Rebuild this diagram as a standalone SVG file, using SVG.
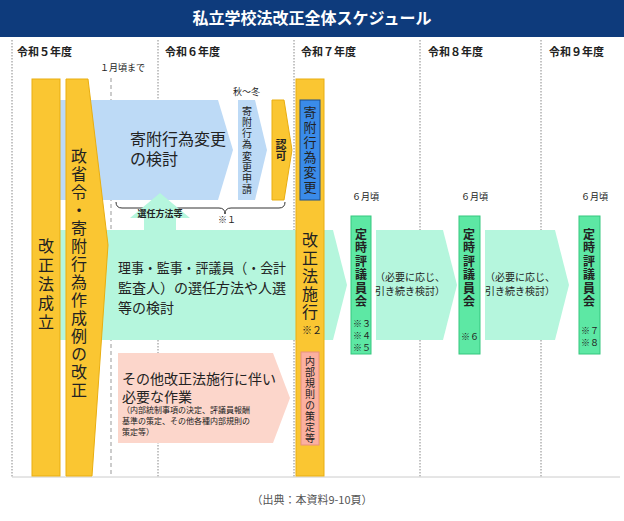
<svg xmlns="http://www.w3.org/2000/svg" width="624" height="521" viewBox="0 0 624 521">
<style>
text{font-family:"Noto Sans CJK JP","Noto Sans CJK SC",sans-serif;fill:#222}
.yr{font-size:11px;font-weight:bold}
.sm{font-size:9px}
.yel{fill:#fac632;stroke:#e9ae10;stroke-width:1}
.blu{fill:#bddaf6}
.grn{fill:#b5f6dd}
.pnk{fill:#fcd6cb}
.dot{stroke:#888;stroke-width:1;stroke-dasharray:1.5,1.5;fill:none}
.big{font-size:16px}
.ver{writing-mode:vertical-rl;text-orientation:upright}
.tei{fill:#5de8a4;stroke:#34c77f}
.kome{font-size:9px}
</style>
<rect width="624" height="521" fill="#fff"/>
<rect x="0" y="0" width="624" height="37" fill="#0e3b7c"/>
<text x="312" y="24" text-anchor="middle" style="fill:#fff;font-size:16px;font-weight:bold">私立学校法改正全体スケジュール</text>
<g id="grid">
<line class="dot" x1="12" y1="40" x2="12" y2="477"/>
<line class="dot" x1="158" y1="40" x2="158" y2="477"/>
<line class="dot" x1="294" y1="40" x2="294" y2="477"/>
<line class="dot" x1="420" y1="40" x2="420" y2="477"/>
<line class="dot" x1="541" y1="40" x2="541" y2="477"/>
<line x1="111" y1="78" x2="111" y2="477" stroke="#999" stroke-dasharray="4,3"/>
<line x1="12" y1="477" x2="620" y2="477" stroke="#ccc"/>
<text class="yr" x="17" y="56">令和５年度</text>
<text class="yr" x="165" y="56">令和６年度</text>
<text class="yr" x="301" y="56">令和７年度</text>
<text class="yr" x="428" y="56">令和８年度</text>
<text class="yr" x="549" y="56">令和９年度</text>
<text class="sm" x="100" y="71">１月頃まで</text>
<text class="sm" x="233" y="95">秋～冬</text>
<text class="sm" x="352" y="200">６月頃</text>
<text class="sm" x="461" y="200">６月頃</text>
<text class="sm" x="581" y="200">６月頃</text>
</g>
<g id="blue-study">
<polygon class="blu" points="60,100 218,100 233,150 218,200 60,200"/>
<text class="big" x="130" y="145">寄附行為変更</text>
<text class="big" x="130" y="165">の検討</text>
</g>
<g id="blue-apply">
<polygon class="blu" points="238,100 255,100 267,150 255,200 238,200"/>
<text class="ver" x="247" y="106" style="font-size:10px;letter-spacing:1.2px">寄附行為変更申請</text>
</g>
<g id="approval">
<polygon class="yel" points="272,100 284,100 292,150 284,200 272,200"/>
<text class="ver" x="281" y="139" style="font-size:11px;font-weight:bold">認可</text>
</g>
<g id="connectors">
<path d="M116,202 q0,6 6,6 h97 q6,0 6,6 q0,-6 6,-6 h48 q6,0 6,-6" fill="none" stroke="#333" stroke-width="1"/>
<text class="sm" x="218" y="223">※１</text>
<polygon class="grn" points="130,218 160,193 190,218 176,218 176,232 144,232 144,218"/>
<text x="160" y="217" text-anchor="middle" style="font-size:9px;font-weight:bold">選任方法等</text>
</g>
<g id="green-main">
<polygon class="grn" points="60,230 333,230 347,285 333,340 60,340"/>
<text x="118" y="273" style="font-size:14px" textLength="168" lengthAdjust="spacingAndGlyphs">理事・監事・評議員（・会計</text>
<text x="118" y="293" style="font-size:14px" textLength="168" lengthAdjust="spacingAndGlyphs">監査人）の選任方法や人選</text>
<text x="118" y="313" style="font-size:14px">等の検討</text>
</g>
<g id="green-2">
<polygon class="grn" points="376,230 443,230 457,285 443,340 376,340"/>
<text x="410" y="281" text-anchor="middle" style="font-size:10px">（必要に応じ、</text>
<text x="410" y="295" text-anchor="middle" style="font-size:10px">引き続き検討）</text>
</g>
<g id="green-3">
<polygon class="grn" points="485,230 555,230 569,285 555,340 485,340"/>
<text x="520" y="281" text-anchor="middle" style="font-size:10px">（必要に応じ、</text>
<text x="520" y="295" text-anchor="middle" style="font-size:10px">引き続き検討）</text>
</g>
<g id="pink-work">
<polygon class="pnk" points="118,353 273,353 290,398 273,443 118,443"/>
<text x="122" y="384" style="font-size:14px">その他改正法施行に伴い</text>
<text x="122" y="402" style="font-size:14px">必要な作業</text>
<text x="122" y="413" style="font-size:8px">（内部統制事項の決定、評議員報酬</text>
<text x="122" y="424" style="font-size:8px">基準の策定、その他各種内部規則の</text>
<text x="122" y="435" style="font-size:8px">策定等）</text>
</g>
<g id="law-passed">
<rect class="yel" x="32" y="79" width="28" height="397"/>
<text class="ver" x="46" y="238" style="font-size:16px;letter-spacing:3px">改正法成立</text>
</g>
<g id="ordinance">
<polygon class="yel" points="66,79 88,79 108,245 92,476 66,476"/>
<text class="ver" x="79" y="148" style="font-size:16px;letter-spacing:2px">政省令・寄附行為作成例の改正</text>
</g>
<g id="law-enforced">
<rect class="yel" x="296" y="79" width="28" height="397"/>
<rect x="300" y="100" width="20" height="100" fill="#3a8be9" stroke="#1d4e8c"/>
<text class="ver" x="310" y="106" style="font-size:13px;letter-spacing:2px">寄附行為変更</text>
<text class="ver" x="310" y="232" style="font-size:16px;letter-spacing:2px">改正法施行</text>
<text x="302" y="334" style="font-size:10px">※２</text>
<rect x="301" y="352" width="18" height="93" fill="#fbb0a0" stroke="#e89080"/>
<text class="ver" x="310" y="356" style="font-size:10px;letter-spacing:1px">内部規則の策定等</text>
</g>
<g id="council-7">
<rect class="tei" x="351" y="216" width="20" height="138"/>
<text class="ver" x="361" y="228" style="font-size:12px;letter-spacing:1.5px;font-weight:bold">定時評議員会</text>
<text class="kome" x="353" y="327">※３</text>
<text class="kome" x="353" y="339">※４</text>
<text class="kome" x="353" y="351">※５</text>
</g>
<g id="council-8">
<rect class="tei" x="459" y="216" width="21" height="138"/>
<text class="ver" x="469" y="228" style="font-size:12px;letter-spacing:1.5px;font-weight:bold">定時評議員会</text>
<text class="kome" x="461" y="340">※６</text>
</g>
<g id="council-9">
<rect class="tei" x="579" y="216" width="21" height="138"/>
<text class="ver" x="589" y="228" style="font-size:12px;letter-spacing:1.5px;font-weight:bold">定時評議員会</text>
<text class="kome" x="581" y="334">※７</text>
<text class="kome" x="581" y="346">※８</text>
</g>
<text x="312" y="504" text-anchor="middle" style="font-size:11px;fill:#555">（出典：本資料9-10頁）</text>
</svg>
